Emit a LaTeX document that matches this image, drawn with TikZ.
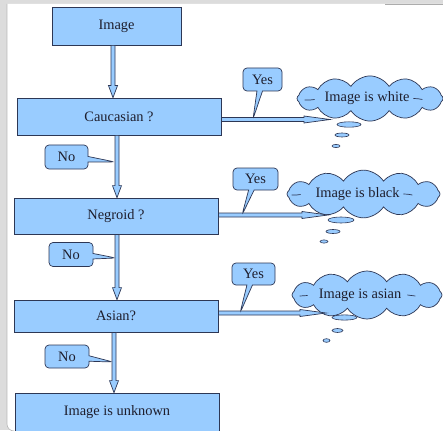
\documentclass[tikz,border=0pt]{standalone}
\usepackage{fontspec}
\setmainfont{Liberation Serif}
\usetikzlibrary{shapes.symbols,shapes.callouts,calc}
\definecolor{boxfill}{RGB}{153,204,255}
\definecolor{edge}{RGB}{45,55,85}
\definecolor{ink}{RGB}{30,30,45}
\definecolor{framegray}{RGB}{220,220,220}

\begin{document}
\begin{tikzpicture}[x=1pt,y=-1pt,
  font=\fontsize{14.4}{17}\selectfont,
  stepbox/.style={draw=edge, fill=boxfill, line width=0.8pt, text=ink, inner sep=0pt},
  tag/.style={rectangle callout, draw=edge, fill=boxfill, line width=0.7pt,
    rounded corners=4pt, text=ink, inner sep=0pt, callout pointer width=5.5pt},
  thought/.style={cloud, cloud puffs=12, cloud puff arc=115, aspect=4.6,
    draw=edge, fill=boxfill, line width=0.7pt, text=ink, inner sep=0pt},
  bubble/.style={draw=edge, fill=boxfill, line width=0.6pt},
  cloudmark/.style={draw=edge, line width=0.7pt},
  arrowbody/.style={draw=edge, fill=boxfill, line width=0.7pt, line join=miter},
  varrow/.style={to path={let \p1=(\tikztostart),\p2=(\tikztotarget) in
    (\x1-2pt,\y1) -- (\x1-2pt,\y2+12pt) -- (\x1-4.5pt,\y2+12pt) -- (\x1,\y2)
    -- (\x1+4.5pt,\y2+12pt) -- (\x1+2pt,\y2+12pt) -- (\x1+2pt,\y1) -- cycle}},
  harrow/.style={to path={let \p1=(\tikztostart),\p2=(\tikztotarget) in
    (\x1,\y1+2pt) -- (\x2-26pt,\y1+2pt) -- (\x2-26pt,\y1+3.5pt) -- (\x2,\y1)
    -- (\x2-26pt,\y1-3.5pt) -- (\x2-26pt,\y1-2pt) -- (\x1,\y1-2pt) -- cycle}}
]
\useasboundingbox (0,0) rectangle (443,430);

% window frame
\fill[framegray] (0,0) rectangle (443,430);
\fill[white] (450,4) -- (7,4) -- (7,424) arc[start angle=180, end angle=270, radius=7pt] -- (450,431) -- cycle;
\draw[gray!55, line width=0.6pt] (7,4) -- (7,424) arc[start angle=180, end angle=270, radius=7pt];
\draw[gray!65, line width=1pt] (385,4.5) -- (443,4.5);

% decision steps
\node[stepbox, minimum width=129pt, minimum height=38pt] (img) at (116.5,26) {Image};
\node[stepbox, minimum width=204pt, minimum height=37pt] (cau) at (119,116.5) {Caucasian ?};
\node[stepbox, minimum width=204pt, minimum height=36pt] (neg) at (116,216) {Negroid ?};
\node[stepbox, minimum width=204pt, minimum height=32pt] (asi) at (116,316) {Asian?};
\node[stepbox, minimum width=204pt, minimum height=38pt] (unk) at (117,412) {Image is unknown};

% outcomes
\node[thought, minimum width=146pt, minimum height=34pt] (white) at (370,98.5) {Image is white\hspace*{6pt}};
\node[thought, minimum width=153pt, minimum height=33pt] (black) at (363.5,194) {Image is black\hspace*{12pt}};
\node[thought, minimum width=150pt, minimum height=31pt] (asian) at (367,295) {Image is asian\hspace*{14pt}};

% arrow tips pointing at the outcomes
\coordinate (tw) at (330,119.5);
\coordinate (tb) at (328,215);
\coordinate (ta) at (326,313);

% down the chain
\draw[arrowbody, varrow] ([xshift=-3.5pt]img.south) to ([xshift=-3.5pt]img.south |- cau.north);
\draw[arrowbody, varrow] ([xshift=-2pt]cau.south) to ([xshift=-2pt]cau.south |- neg.north);
\draw[arrowbody, varrow] ([xshift=1pt]neg.south) to ([xshift=1pt]neg.south |- asi.north);
\draw[arrowbody, varrow] ([xshift=-2pt]asi.south) to ([xshift=-2pt]asi.south |- unk.north);

% to the outcomes
\draw[arrowbody, harrow] ([yshift=-3pt]cau.east) to (tw);
\draw[arrowbody, harrow] ([yshift=1pt]neg.east) to (tb);
\draw[arrowbody, harrow] ([yshift=3pt]asi.east) to (ta);

% thought bubbles
\draw[bubble] (349,124.5) ellipse[x radius=12pt, y radius=2.7pt];
\draw[bubble] (342,135) ellipse[x radius=7pt, y radius=2pt];
\draw[bubble] (336,146) ellipse[x radius=4pt, y radius=1.6pt];
\draw[bubble] (341,220) ellipse[x radius=13pt, y radius=3pt];
\draw[bubble] (333,231.5) ellipse[x radius=7pt, y radius=2pt];
\draw[bubble] (324,241.5) ellipse[x radius=4pt, y radius=1.6pt];
\draw[bubble] (344.5,317.5) ellipse[x radius=12.5pt, y radius=2.6pt];
\draw[bubble] (337.5,330.5) ellipse[x radius=5.5pt, y radius=2pt];
\draw[bubble] (326.5,340.5) ellipse[x radius=3.5pt, y radius=1.8pt];

% inner strokes of the clouds
\draw[cloudmark] ($(white.west)+(8,1.5)$) to[bend right=6] ++(10,-0.5);
\draw[cloudmark] ($(white.east)+(-30,0)$) to[bend left=6] ++(9,1);
\draw[cloudmark] ($(black.west)+(5,1)$) to[bend right=6] ++(9,-0.5);
\draw[cloudmark] ($(black.east)+(-37,0)$) to[bend left=6] ++(9,1);
\draw[cloudmark] ($(asian.west)+(8,1)$) to[bend right=6] ++(8,-0.5);
\draw[cloudmark] ($(asian.east)+(-35,0)$) to[bend left=6] ++(8,1);

% answer labels
\coordinate (py1) at (253,119);
\coordinate (py2) at (242,215);
\coordinate (py3) at (240,313);
\coordinate (pn1) at (115,162);
\coordinate (pn2) at (116,258);
\coordinate (pn3) at (113,362);
\node[tag, minimum width=39pt, minimum height=23pt, callout absolute pointer={(py1)}] (yes1) at (262.5,79.5) {Yes};
\node[tag, minimum width=45pt, minimum height=22pt, callout absolute pointer={(py2)}] (yes2) at (255.5,179) {Yes};
\node[tag, minimum width=43pt, minimum height=22pt, callout absolute pointer={(py3)}] (yes3) at (253.5,274) {Yes};
\node[tag, minimum width=43pt, minimum height=24pt, callout absolute pointer={(pn1)}] (no1) at (66.5,157) {No};
\node[tag, minimum width=44pt, minimum height=24pt, callout absolute pointer={(pn2)}] (no2) at (71,254.5) {No};
\node[tag, minimum width=44pt, minimum height=23pt, callout absolute pointer={(pn3)}] (no3) at (67,356.5) {No};
\end{tikzpicture}
\end{document}
